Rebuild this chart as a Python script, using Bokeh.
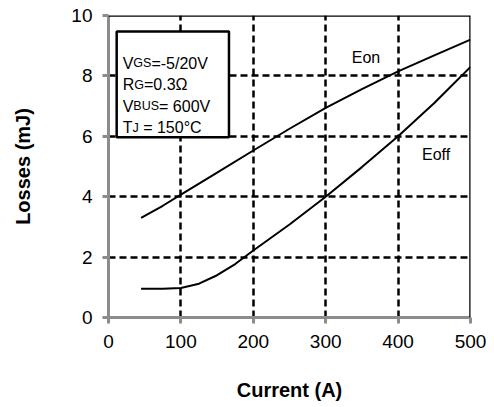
from bokeh.plotting import figure
from bokeh.models import FixedTicker, Label, BoxAnnotation, Span, Range1d
from bokeh.embed import file_html
from bokeh.resources import INLINE

# ---- data ----
eon_current = [45, 75, 100, 150, 200, 250, 300, 350, 400, 450, 500]
eon_loss = [3.3, 3.7, 4.07, 4.8, 5.53, 6.25, 6.94, 7.56, 8.15, 8.68, 9.2]

eoff_current = [45, 75, 100, 125, 150, 175, 200, 250, 300, 350, 400, 450, 500]
eoff_loss = [0.95, 0.95, 0.98, 1.12, 1.4, 1.77, 2.22, 3.08, 4.0, 4.98, 6.0, 7.1, 8.3]

x_ticks = [0, 100, 200, 300, 400, 500]
y_ticks = [0, 2, 4, 6, 8, 10]
x_grid = [100, 200, 300, 400]
y_grid = [2, 4, 6, 8]

# condition box lines: (text, is_subscript)
cond_lines = [
    [("V", False), ("GS", True), ("=-5/20V", False)],
    [("R", False), ("G", True), ("=0.3Ω", False)],
    [("V", False), ("BUS", True), ("=\u00a0600V", False)],
    [("T", False), ("J", True), ("\u00a0=\u00a0150°C", False)],
]

FONT = "Liberation Sans"
GRAY = "#8c8c8c"

p = figure(width=486, height=405, output_backend="svg", toolbar_location=None,
           x_range=Range1d(0, 500), y_range=Range1d(0, 10),
           min_border_left=108, min_border_right=16, min_border_top=15,
           min_border_bottom=88, frame_width=362, frame_height=302)
p.outline_line_color = None
p.background_fill_color = "white"
p.border_fill_color = "white"

for ax in (p.xaxis[0], p.yaxis[0]):
    ax.axis_line_color = GRAY
    ax.axis_line_width = 3
    ax.major_tick_line_color = GRAY
    ax.major_tick_line_width = 3
    ax.major_tick_out = 6
    ax.major_tick_in = 0
    ax.minor_tick_line_color = None
    ax.major_label_text_font = FONT
    ax.major_label_text_font_size = "19px"
    ax.major_label_text_color = "black"
    ax.axis_label_text_font = FONT
    ax.axis_label_text_font_size = "20px"
    ax.axis_label_text_font_style = "bold"
    ax.axis_label_text_color = "black"

p.xaxis.ticker = FixedTicker(ticks=x_ticks)
p.yaxis.ticker = FixedTicker(ticks=y_ticks)
p.xaxis.axis_label = "Current (A)"
p.yaxis.axis_label = "Losses (mJ)"
p.xaxis.major_label_standoff = 11
p.yaxis.major_label_standoff = 10
p.xaxis.axis_label_standoff = 28
p.yaxis.axis_label_standoff = 34

p.xgrid.ticker = FixedTicker(ticks=x_grid)
p.ygrid.ticker = FixedTicker(ticks=y_grid)
for g in (p.xgrid[0], p.ygrid[0]):
    g.grid_line_color = "black"
    g.grid_line_width = 2.5
    g.grid_line_dash = "7 4"
    g.grid_line_alpha = 1

p.line(eon_current, eon_loss, line_color="black", line_width=2)
p.line(eoff_current, eoff_loss, line_color="black", line_width=2)

# top and right border
p.add_layout(Span(location=10, dimension="width", line_color="black", line_width=2.5))
p.add_layout(Span(location=500, dimension="height", line_color="black", line_width=2.5))

# condition box
p.add_layout(BoxAnnotation(left=11.3, right=166.4, bottom=5.97, top=9.47,
                           fill_color="white", fill_alpha=1,
                           line_color="black", line_alpha=1, line_width=2.5,
                           level="annotation"))

W = {'V': 667, 'G': 778, 'S': 667, '=': 584, '-': 333, '5': 556, '/': 278, '2': 556,
     '0': 556, 'R': 722, '.': 278, '3': 556, 'Ω': 768, 'B': 667, 'U': 722, ' ': 278,
     '\u00a0': 278, '6': 556, 'T': 611, 'J': 500, '1': 556, '°': 400, 'C': 722}
baselines = [8.42, 7.715, 6.99, 6.28]
for parts, yb in zip(cond_lines, baselines):
    off = 0.0
    for txt, sub in parts:
        size = 12.5 if sub else 16
        p.add_layout(Label(x=19.6, y=yb, x_offset=off, text=txt, text_font=FONT,
                           text_font_size=f"{size}px", text_baseline="alphabetic",
                           text_color="black"))
        off += sum(W[c] for c in txt) / 1000 * size

p.add_layout(Label(x=336, y=8.62, text="Eon", text_font=FONT, text_font_size="16px",
                   text_baseline="alphabetic", text_color="black"))
p.add_layout(Label(x=433, y=5.39, text="Eoff", text_font=FONT, text_font_size="16px",
                   text_baseline="alphabetic", text_color="black"))

open("out.html", "w").write(file_html(p, INLINE))
